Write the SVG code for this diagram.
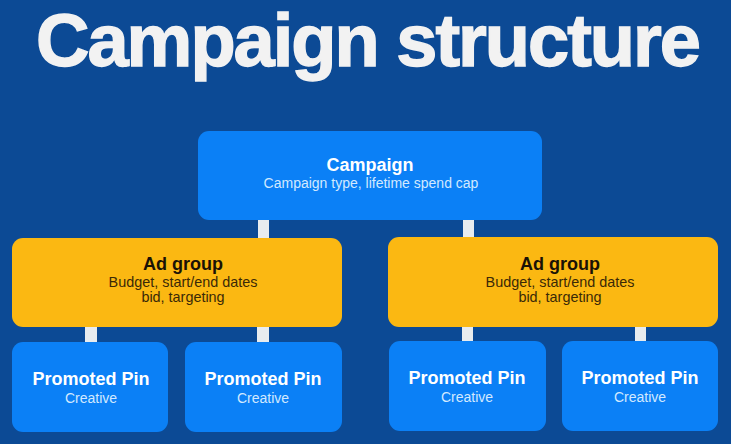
<svg xmlns="http://www.w3.org/2000/svg" width="731" height="444" viewBox="0 0 731 444">
  <style>
    .title { font-family: "Liberation Sans", Arial, sans-serif; font-weight: bold; font-size: 74px; fill: #f2f2f2; stroke: #f2f2f2; stroke-width: 1.4; letter-spacing: -2px; }
    .blue { fill: #0b80f6; }
    .yellow { fill: #fbb812; }
    .conn { fill: #e8ecef; }
    .h { font-family: "Liberation Sans", Arial, sans-serif; font-weight: bold; font-size: 18px; text-anchor: middle; }
    .s { font-family: "Liberation Sans", Arial, sans-serif; font-size: 14px; text-anchor: middle; }
    .hw { fill: #ffffff; }
    .sw { fill: #d2e9ff; }
    .hd { fill: #1a1206; }
    .sd { fill: #3a2907; }
  </style>
  <rect x="0" y="0" width="731" height="444" fill="#0c4a95"/>
  <text class="title" x="36" y="66">Campaign structure</text>

  <g id="connectors">
    <rect class="conn" x="258" y="219" width="11" height="20"/>
    <rect class="conn" x="463" y="219" width="11" height="20"/>
    <rect class="conn" x="85" y="326" width="12" height="17"/>
    <rect class="conn" x="257" y="326" width="12" height="17"/>
    <rect class="conn" x="462" y="326" width="11" height="17"/>
    <rect class="conn" x="635" y="326" width="11" height="17"/>
  </g>

  <g id="campaign">
    <rect class="blue" x="198" y="131" width="344" height="89" rx="11"/>
    <text class="h hw" x="370" y="171">Campaign</text>
    <text class="s sw" x="371" y="188">Campaign type, lifetime spend cap</text>
  </g>

  <g id="adgroup-left">
    <rect class="yellow" x="12" y="238" width="330" height="89" rx="11"/>
    <text class="h hd" x="183" y="270">Ad group</text>
    <text class="s sd" x="183" y="287" style="font-size:14.4px">Budget, start/end dates</text>
    <text class="s sd" x="183" y="302" style="font-size:14.4px">bid, targeting</text>
  </g>

  <g id="adgroup-right">
    <rect class="yellow" x="388" y="237" width="330" height="90" rx="11"/>
    <text class="h hd" x="560" y="270">Ad group</text>
    <text class="s sd" x="560" y="287" style="font-size:14.4px">Budget, start/end dates</text>
    <text class="s sd" x="560" y="302" style="font-size:14.4px">bid, targeting</text>
  </g>

  <g id="pin-1">
    <rect class="blue" x="12" y="342" width="156" height="90" rx="11"/>
    <text class="h hw" x="91" y="385">Promoted Pin</text>
    <text class="s sw" x="91" y="403">Creative</text>
  </g>
  <g id="pin-2">
    <rect class="blue" x="185" y="342" width="157" height="90" rx="11"/>
    <text class="h hw" x="263" y="385">Promoted Pin</text>
    <text class="s sw" x="263" y="403">Creative</text>
  </g>
  <g id="pin-3">
    <rect class="blue" x="389" y="341" width="157" height="90" rx="11"/>
    <text class="h hw" x="467" y="384">Promoted Pin</text>
    <text class="s sw" x="467" y="402">Creative</text>
  </g>
  <g id="pin-4">
    <rect class="blue" x="562" y="341" width="156" height="90" rx="11"/>
    <text class="h hw" x="640" y="384">Promoted Pin</text>
    <text class="s sw" x="640" y="402">Creative</text>
  </g>
</svg>
